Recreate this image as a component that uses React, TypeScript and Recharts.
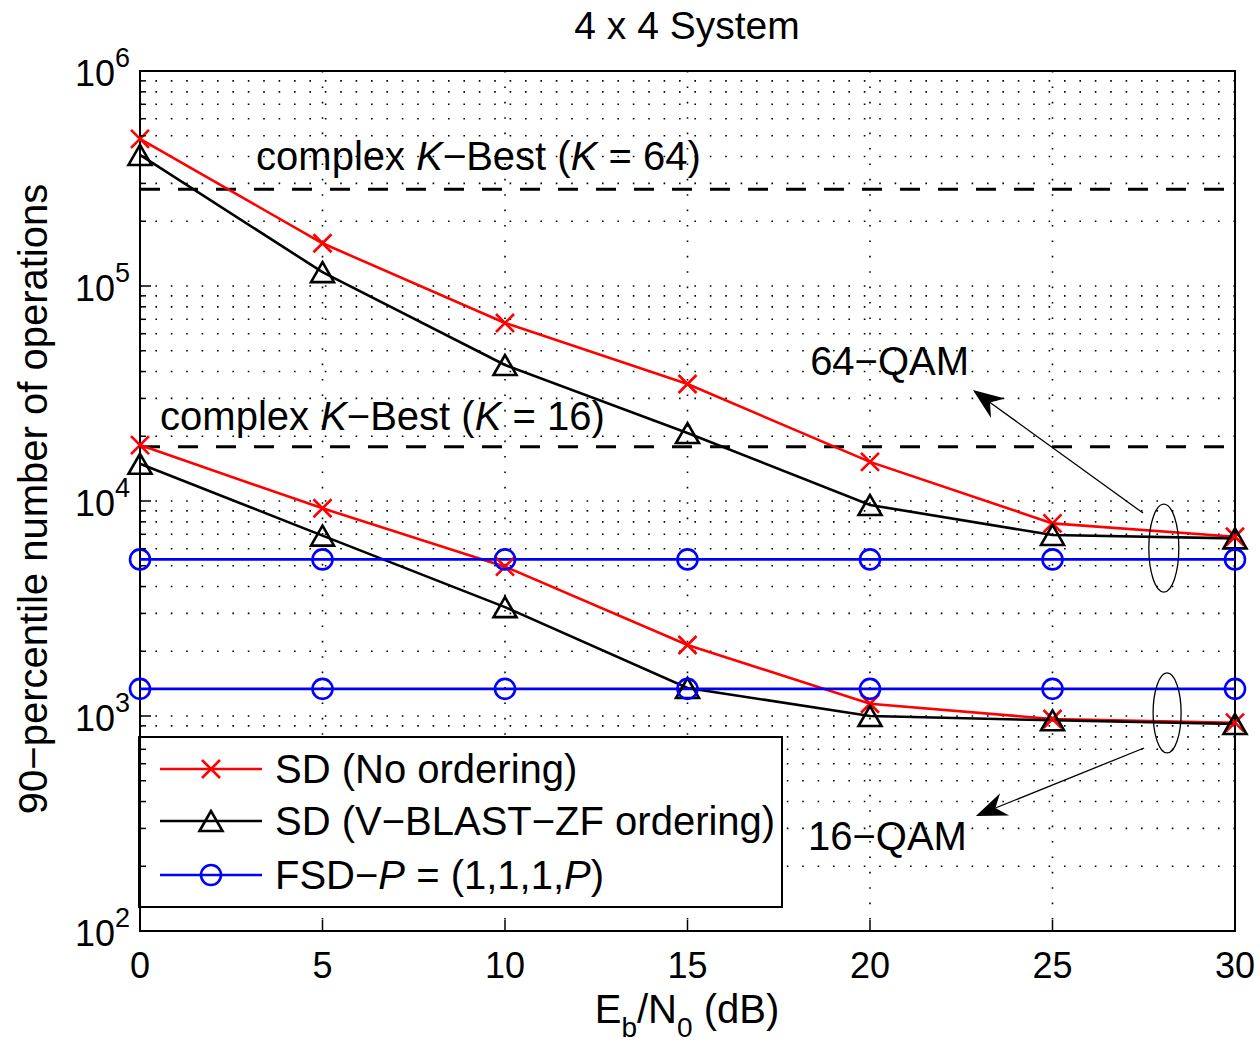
import React from "react";
import {
  LineChart,
  Line,
  XAxis,
  YAxis,
  CartesianGrid,
  ReferenceLine,
  ReferenceDot,
  ReferenceArea,
} from "recharts";

// ---------------- data ----------------
const snrDb = [0, 5, 10, 15, 20, 25, 30];

const sdNoOrder64 = [483000, 158000, 67300, 35000, 15200, 7870, 6820];
const sdVblast64 = [407000, 116000, 42900, 20700, 9580, 6950, 6700];
const fsd64 = [5350, 5350, 5350, 5350, 5350, 5350, 5350];

const sdNoOrder16 = [18200, 9250, 4950, 2140, 1140, 968, 931];
const sdVblast16 = [14900, 6900, 3210, 1350, 1000, 955, 918];
const fsd16 = [1337, 1337, 1337, 1337, 1337, 1337, 1337];

const kBest64 = 282000;
const kBest16 = 17900;

const xTicks = [0, 5, 10, 15, 20, 25, 30];
const yMajorExponents = [2, 3, 4, 5, 6];
const yMinorMultipliers = [2, 3, 4, 5, 6, 7, 8, 9];

const seriesNames = [
  "SD (No ordering)",
  "SD (V\u2212BLAST\u2212ZF ordering)",
  "FSD\u2212P = (1,1,1,P)",
];

// ---------------- derived ----------------
const rows = snrDb.map((x, i) => ({
  snr: x,
  sdNo64: sdNoOrder64[i],
  sdVb64: sdVblast64[i],
  fsd64: fsd64[i],
  sdNo16: sdNoOrder16[i],
  sdVb16: sdVblast16[i],
  fsd16: fsd16[i],
}));

const yAllTicks: number[] = [];
yMajorExponents.forEach((e, idx) => {
  yAllTicks.push(Math.pow(10, e));
  if (idx < yMajorExponents.length - 1) {
    yMinorMultipliers.forEach((m) => yAllTicks.push(m * Math.pow(10, e)));
  }
});

const isMajor = (v: number) => {
  const l = Math.log10(v);
  return Math.abs(l - Math.round(l)) < 1e-9;
};

// ---------------- styles ----------------
const FONT = "'Liberation Sans', Arial, Helvetica, sans-serif";
const RED = "#ff0000";
const BLUE = "#0000ff";
const BLACK = "#000000";
const LW = 2.6;
const W = 1260;
const H = 1044;
const PLOT_TOP = 71;
const PLOT_RIGHT = 1235;

// ---------------- markers ----------------
const XMark = ({ cx, cy, color }: any) => (
  <g>
    <line x1={cx - 9} y1={cy - 9} x2={cx + 9} y2={cy + 9} stroke={color} strokeWidth={2.6} />
    <line x1={cx - 9} y1={cy + 9} x2={cx + 9} y2={cy - 9} stroke={color} strokeWidth={2.6} />
  </g>
);
const TriMark = ({ cx, cy, color }: any) => (
  <polygon
    points={`${cx},${cy - 10} ${cx - 11.5},${cy + 10} ${cx + 11.5},${cy + 10}`}
    fill="none"
    stroke={color}
    strokeWidth={2.6}
    strokeLinejoin="miter"
  />
);
const CircMark = ({ cx, cy, color }: any) => (
  <circle cx={cx} cy={cy} r={10} fill="none" stroke={color} strokeWidth={2.6} />
);

const makeDot = (Comp: any, color: string, tag: string) => (p: any) =>
  <Comp key={`${tag}-${p.index}`} cx={p.cx} cy={p.cy} color={color} />;

// ---------------- ticks ----------------
const LeftTick = (p: any) => {
  const { x, y, payload } = p;
  const v = payload.value;
  const major = isMajor(v);
  const exp = Math.round(Math.log10(v));
  return (
    <g>
      <line x1={x} y1={y} x2={x + (major ? 11 : 6)} y2={y} stroke={BLACK} strokeWidth={1.5} />
      {major && (
        <text x={x - 10} y={y + 15} textAnchor="end" fontFamily={FONT} fontSize={36} fill={BLACK}>
          <tspan>10</tspan>
          <tspan dy={-19} fontSize={27}>{exp}</tspan>
        </text>
      )}
    </g>
  );
};
const RightTick = (p: any) => {
  const { x, y, payload } = p;
  const major = isMajor(payload.value);
  return <line x1={x} y1={y} x2={x - (major ? 11 : 6)} y2={y} stroke={BLACK} strokeWidth={1.5} />;
};
const BottomTick = (p: any) => {
  const { x, y, payload } = p;
  return (
    <g>
      <line x1={x} y1={y} x2={x} y2={y - 11} stroke={BLACK} strokeWidth={1.5} />
      <text x={x} y={y + 47} textAnchor="middle" fontFamily={FONT} fontSize={36} fill={BLACK}>
        {payload.value}
      </text>
    </g>
  );
};
const TopTick = (p: any) => {
  const { x, y } = p;
  return <line x1={x} y1={y} x2={x} y2={y + 11} stroke={BLACK} strokeWidth={1.5} />;
};

// ---------------- annotations ----------------
const Arrow = (p: any) => {
  const { x1, y1, x2, y2 } = p;
  const dx = x2 - x1;
  const dy = y2 - y1;
  const len = Math.sqrt(dx * dx + dy * dy) || 1;
  const ux = dx / len;
  const uy = dy / len;
  const nx = -uy;
  const ny = ux;
  const L = 31;
  const hw = 12;
  const bx = x2 - ux * L;
  const by = y2 - uy * L;
  const ix = x2 - ux * L * 0.68;
  const iy = y2 - uy * L * 0.68;
  return (
    <g>
      <line x1={x1} y1={y1} x2={ix} y2={iy} stroke={BLACK} strokeWidth={1.3} />
      <polygon
        points={`${x2},${y2} ${bx + nx * hw},${by + ny * hw} ${ix},${iy} ${bx - nx * hw},${by - ny * hw}`}
        fill={BLACK}
        stroke="none"
      />
    </g>
  );
};

const makeEllipse = (rx: number, ry: number) => (p: any) =>
  <ellipse cx={p.cx} cy={p.cy} rx={rx} ry={ry} fill="none" stroke={BLACK} strokeWidth={1.3} />;

const textAt = (content: React.ReactNode) => (p: any) =>
  (
    <text x={p.cx} y={p.cy} fontFamily={FONT} fontSize={40} fill={BLACK}>
      {content}
    </text>
  );

const kBestLabel = (k: string) => (
  <>
    <tspan>complex </tspan>
    <tspan fontStyle="italic">K</tspan>
    <tspan>{"\u2212Best ("}</tspan>
    <tspan fontStyle="italic">K</tspan>
    <tspan>{` = ${k})`}</tspan>
  </>
);

// ---------------- legend ----------------
const legendItems = [
  { name: seriesNames[0], color: RED, Mark: XMark },
  { name: seriesNames[1], color: BLACK, Mark: TriMark },
  { name: seriesNames[2], color: BLUE, Mark: CircMark },
];

const renderLegendText = (name: string) => {
  if (name.startsWith("FSD")) {
    return (
      <>
        <tspan>{"FSD\u2212"}</tspan>
        <tspan fontStyle="italic">P</tspan>
        <tspan>{" = (1,1,1,"}</tspan>
        <tspan fontStyle="italic">P</tspan>
        <tspan>)</tspan>
      </>
    );
  }
  return name;
};

const LegendBox = () => {
  const bx = 139;
  const by = 737;
  const bw = 643;
  const bh = 170;
  const rowY = [769, 821, 875];
  return (
    <g>
      <rect x={bx} y={by} width={bw} height={bh} fill="#ffffff" stroke={BLACK} strokeWidth={2} />
      {legendItems.map((it, i) => (
        <g key={it.name}>
          <line x1={160} y1={rowY[i]} x2={262} y2={rowY[i]} stroke={it.color} strokeWidth={LW} />
          <it.Mark cx={211} cy={rowY[i]} color={it.color} />
          <text x={275} y={rowY[i] + 14} fontFamily={FONT} fontSize={40} fill={BLACK}>
            {renderLegendText(it.name)}
          </text>
        </g>
      ))}
    </g>
  );
};

export default function App() {
  return (
    <div
      style={{
        position: "absolute",
        left: 0,
        top: 0,
        width: W,
        height: H,
        overflow: "hidden",
        background: "#fff",
      }}
    >
      <LineChart
        width={W}
        height={H}
        data={rows}
        margin={{ top: PLOT_TOP, right: W - PLOT_RIGHT, bottom: 53, left: 40 }}
      >
        <CartesianGrid stroke={BLACK} strokeWidth={1.6} strokeDasharray="1.6 13.8" />
        <XAxis
          dataKey="snr"
          type="number"
          domain={[0, 30]}
          ticks={xTicks}
          interval={0}
          height={60}
          tickSize={0}
          tickMargin={0}
          axisLine={false}
          tickLine={false}
          tick={BottomTick}
        />
        <XAxis
          xAxisId="top"
          orientation="top"
          type="number"
          domain={[0, 30]}
          ticks={xTicks}
          interval={0}
          height={0}
          tickSize={0}
          tickMargin={0}
          axisLine={false}
          tickLine={false}
          tick={TopTick}
        />
        <YAxis
          type="number"
          scale="log"
          domain={[100, 1000000]}
          allowDataOverflow
          ticks={yAllTicks}
          interval={0}
          width={100}
          tickSize={0}
          tickMargin={0}
          axisLine={false}
          tickLine={false}
          tick={LeftTick}
        />
        <YAxis
          yAxisId="right"
          orientation="right"
          type="number"
          scale="log"
          domain={[100, 1000000]}
          allowDataOverflow
          ticks={yAllTicks}
          interval={0}
          width={0}
          tickSize={0}
          tickMargin={0}
          axisLine={false}
          tickLine={false}
          tick={RightTick}
        />

        <ReferenceLine y={kBest64} stroke={BLACK} strokeWidth={3} strokeDasharray="20 18" />
        <ReferenceLine y={kBest16} stroke={BLACK} strokeWidth={3} strokeDasharray="20 18" />

        <Line dataKey="sdNo64" stroke={RED} strokeWidth={LW} isAnimationActive={false} dot={makeDot(XMark, RED, "r64")} activeDot={false} />
        <Line dataKey="sdNo16" stroke={RED} strokeWidth={LW} isAnimationActive={false} dot={makeDot(XMark, RED, "r16")} activeDot={false} />
        <Line dataKey="sdVb64" stroke={BLACK} strokeWidth={LW} isAnimationActive={false} dot={makeDot(TriMark, BLACK, "k64")} activeDot={false} />
        <Line dataKey="sdVb16" stroke={BLACK} strokeWidth={LW} isAnimationActive={false} dot={makeDot(TriMark, BLACK, "k16")} activeDot={false} />
        <Line dataKey="fsd64" stroke={BLUE} strokeWidth={LW} isAnimationActive={false} dot={makeDot(CircMark, BLUE, "b64")} activeDot={false} />
        <Line dataKey="fsd16" stroke={BLUE} strokeWidth={LW} isAnimationActive={false} dot={makeDot(CircMark, BLUE, "b16")} activeDot={false} />

        <ReferenceDot x={3.18} y={346000} r={0} shape={textAt(kBestLabel("64"))} />
        <ReferenceDot x={0.55} y={21400} r={0} shape={textAt(kBestLabel("16"))} />
        <ReferenceDot x={18.36} y={38550} r={0} shape={textAt("64\u2212QAM")} />
        <ReferenceDot x={18.3} y={238} r={0} shape={textAt("16\u2212QAM")} />
        <ReferenceDot x={28.05} y={6040} r={0} shape={makeEllipse(15, 44)} />
        <ReferenceDot x={28.14} y={1033} r={0} shape={makeEllipse(14, 40)} />
        <ReferenceLine
          segment={[
            { x: 27.48, y: 8790 },
            { x: 22.82, y: 32800 },
          ]}
          shape={Arrow}
        />
        <ReferenceLine
          segment={[
            { x: 27.51, y: 710 },
            { x: 22.9, y: 343 },
          ]}
          shape={Arrow}
        />

        <ReferenceArea x1={0} x2={30} y1={100} y2={1000000} fill="none" stroke={BLACK} strokeWidth={2} />

        <LegendBox />

        <text x={687} y={39} textAnchor="middle" fontFamily={FONT} fontSize={39} fill={BLACK}>
          4 x 4 System
        </text>
        <text x={687} y={1023} textAnchor="middle" fontFamily={FONT} fontSize={40} fill={BLACK}>
          <tspan>E</tspan>
          <tspan dy={14} fontSize={28}>b</tspan>
          <tspan dy={-14}>/N</tspan>
          <tspan dy={14} fontSize={28}>0</tspan>
          <tspan dy={-14}> (dB)</tspan>
        </text>
        <text
          x={47}
          y={499}
          textAnchor="middle"
          fontFamily={FONT}
          fontSize={40}
          fill={BLACK}
          transform="rotate(-90 47 499)"
        >
          90{"\u2212"}percentile number of operations
        </text>
      </LineChart>
    </div>
  );
}
